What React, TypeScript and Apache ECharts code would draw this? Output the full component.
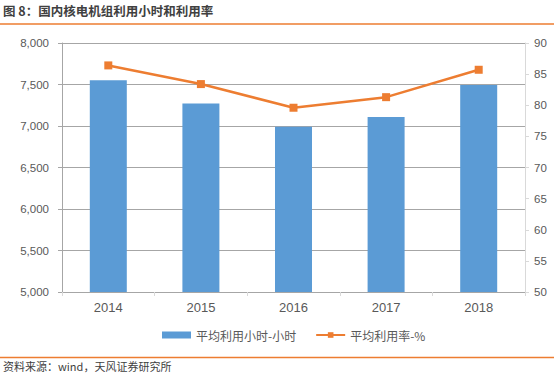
import React, { useEffect, useRef } from "react";
import * as echarts from "echarts";

const categories = ["2014", "2015", "2016", "2017", "2018"];
const hoursValues = [7552, 7271, 6990, 7108, 7495];
const rateValues = [86.4, 83.4, 79.6, 81.3, 85.7];
const seriesNames = ["平均利用小时-小时", "平均利用率-%"];
const titleText = "图 8：国内核电机组利用小时和利用率";
const sourceText = "资料来源：wind，天风证券研究所";

export default function App() {
  const ref = useRef<HTMLDivElement>(null);
  useEffect(() => {
    document.body.style.margin = "0";
    const chart = echarts.init(ref.current!, null, { renderer: "svg" });
    const font = "'Liberation Sans', Arial, sans-serif";
    const cjk = "'Noto Sans CJK SC', 'Microsoft YaHei', sans-serif";
    chart.setOption({
      animation: false,
      backgroundColor: "#ffffff",
      grid: { left: 62, right: 29, top: 43, bottom: 88 },
      legend: {
        left: 157,
        top: 324,
        itemWidth: 29,
        itemHeight: 7,
        itemGap: 19,
        textStyle: { color: "#595959", fontSize: 12, fontFamily: cjk },
        data: [
          { name: seriesNames[0], icon: "rect", itemStyle: { color: "#5b9bd5" } },
          { name: seriesNames[1] },
        ],
      },
      xAxis: {
        type: "category",
        data: categories,
        axisLine: { show: true, lineStyle: { color: "#a6a6a6" } },
        axisTick: { show: true, length: 4, lineStyle: { color: "#d9d9d9" } },
        axisLabel: { color: "#595959", fontSize: 13, fontFamily: font, margin: 9 },
      },
      yAxis: [
        {
          type: "value",
          min: 5000,
          max: 8000,
          interval: 500,
          axisLine: { show: true, lineStyle: { color: "#a6a6a6" } },
          axisTick: { show: true, length: 4, lineStyle: { color: "#a6a6a6" } },
          splitLine: { show: true, lineStyle: { color: "#a6a6a6", width: 1 } },
          axisLabel: {
            color: "#595959",
            fontSize: 11.5,
            fontFamily: font,
            margin: 13,
            formatter: (v: number) => v.toLocaleString("en-US"),
          },
        },
        {
          type: "value",
          min: 50,
          max: 90,
          interval: 5,
          position: "right",
          axisLine: { show: true, lineStyle: { color: "#d9d9d9" } },
          axisTick: { show: true, length: 4, lineStyle: { color: "#d9d9d9" } },
          splitLine: { show: false },
          axisLabel: { color: "#595959", fontSize: 11.5, fontFamily: font, margin: 9 },
        },
      ],
      series: [
        {
          name: seriesNames[0],
          type: "bar",
          data: hoursValues,
          barWidth: 37,
          itemStyle: { color: "#5b9bd5" },
          yAxisIndex: 0,
        },
        {
          name: seriesNames[1],
          type: "line",
          data: rateValues,
          yAxisIndex: 1,
          symbol: "rect",
          symbolSize: 8,
          lineStyle: { color: "#ed7d31", width: 2.5 },
          itemStyle: { color: "#ed7d31" },
        },
      ],
      graphic: [
        {
          type: "text",
          left: 3,
          top: 4,
          style: {
            text: titleText,
            fill: "#404040",
            font: `bold 12.5px ${cjk}`,
          },
        },
        {
          type: "line",
          shape: { x1: 0, y1: 24, x2: 554, y2: 24 },
          style: { stroke: "#ed7d31", lineWidth: 1.5 },
        },
        {
          type: "line",
          shape: { x1: 0, y1: 357.5, x2: 554, y2: 357.5 },
          style: { stroke: "#ed7d31", lineWidth: 1.5 },
        },
        {
          type: "text",
          left: 3,
          top: 360,
          style: {
            text: sourceText,
            fill: "#404040",
            font: `11px ${cjk}`,
          },
        },
      ],
    });
    return () => chart.dispose();
  }, []);
  return (
    <div
      ref={ref}
      style={{ position: "fixed", left: 0, top: 0, width: 554, height: 380 }}
    />
  );
}
